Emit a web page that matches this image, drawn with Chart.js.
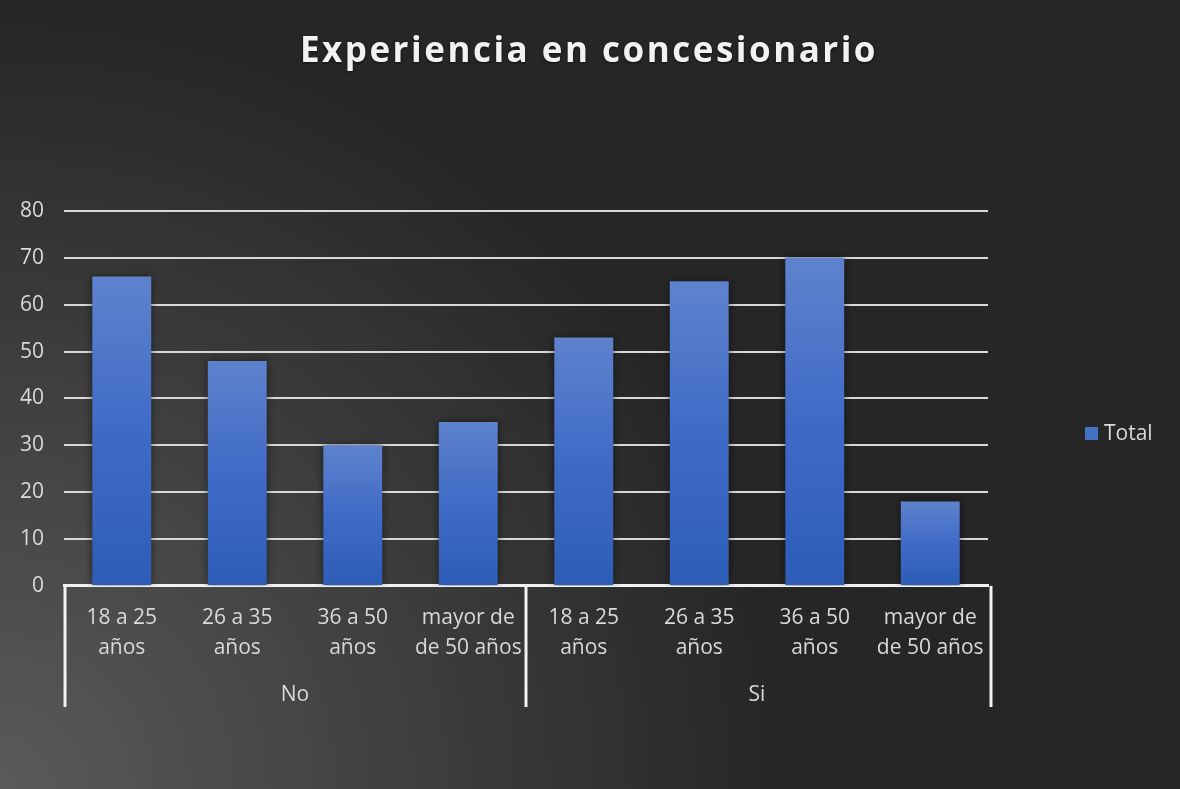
<!DOCTYPE html>
<html>
<head>
<meta charset="utf-8">
<script src="https://cdn.jsdelivr.net/npm/chart.js@4.4.1/dist/chart.umd.min.js"></script>
<style>
  html, body { margin: 0; padding: 0; background: #262626; }
  #wrap { width: 1180px; height: 789px; position: relative; }
</style>
</head>
<body>
<div id="wrap"><canvas id="chart"></canvas></div>
<script>
const chartTitle = "Experiencia en concesionario";
const groupLabels = ["No", "Si"];
const ageLabels = [
  ["18 a 25", "años"],
  ["26 a 35", "años"],
  ["36 a 50", "años"],
  ["mayor de", "de 50 años"],
];
const seriesName = "Total";
const noValues = [66, 48, 30, 35];
const siValues = [53, 65, 70, 18];
const yMin = 0;
const yMax = 80;
const yStep = 10;

const labels = groupLabels.flatMap(() => ageLabels);
const values = noValues.concat(siValues);

const textColor = "#d9d9d9";
const lineColor = "#f2f2f2";
const fontFamily = "'Open Sans', 'Noto Sans', sans-serif";

// each bar gets its own light-to-dark vertical fill
function barFill(ctx) {
  const chart = ctx.chart;
  const { chartArea, scales } = chart;
  if (!chartArea || ctx.type !== "data") return "#4472c4";
  const top = scales.y.getPixelForValue(ctx.raw);
  const bottom = scales.y.getPixelForValue(0);
  const g = chart.ctx.createLinearGradient(0, top, 0, bottom);
  g.addColorStop(0, "#5e82cd");
  g.addColorStop(0.5, "#3f6bc6");
  g.addColorStop(1, "#2d5db7");
  return g;
}

const decor = {
  id: "decor",
  beforeDraw(chart) {
    const { ctx, width, height } = chart;
    ctx.save();
    const bg = ctx.createRadialGradient(0, height, 0, 0, height, 780);
    bg.addColorStop(0, "#5a5a5a");
    bg.addColorStop(1, "#262626");
    ctx.fillStyle = bg;
    ctx.fillRect(0, 0, width, height);

    ctx.font = "bold 35px " + fontFamily;
    ctx.letterSpacing = "2.5px";
    ctx.fillStyle = "#f2f2f2";
    ctx.textAlign = "center";
    ctx.textBaseline = "middle";
    ctx.shadowColor = "rgba(0,0,0,0.6)";
    ctx.shadowBlur = 3;
    ctx.shadowOffsetY = 1;
    ctx.fillText(chartTitle, width / 2 - 1, 52);
    ctx.restore();
  },
  beforeDatasetsDraw(chart) {
    const ctx = chart.ctx;
    ctx.save();
    ctx.shadowColor = "rgba(0,0,0,0.55)";
    ctx.shadowBlur = 8;
  },
  afterDatasetsDraw(chart) {
    const ctx = chart.ctx;
    ctx.restore();

    // group separators under the axis
    const { chartArea, scales } = chart;
    const x = scales.x;
    const bottom = scales.x2.bottom - 3;
    const mid = (x.getPixelForValue(ageLabels.length - 1) + x.getPixelForValue(ageLabels.length)) / 2;
    ctx.save();
    ctx.strokeStyle = lineColor;
    ctx.lineWidth = 3;
    [chartArea.left + 1, mid, chartArea.right + 3].forEach((px) => {
      ctx.beginPath();
      ctx.moveTo(px, chartArea.bottom);
      ctx.lineTo(px, bottom);
      ctx.stroke();
    });

    // legend
    const ds = chart.data.datasets[0];
    ctx.fillStyle = "#4472c4";
    ctx.fillRect(1085, 427, 13, 13);
    ctx.font = "21px " + fontFamily;
    ctx.fillStyle = textColor;
    ctx.textAlign = "left";
    ctx.textBaseline = "middle";
    ctx.fillText(ds.label, 1104, 434);
    ctx.restore();
  },
};

new Chart(document.getElementById("chart"), {
  type: "bar",
  data: {
    labels: labels,
    datasets: [
      {
        label: seriesName,
        data: values,
        backgroundColor: barFill,
        borderWidth: 0,
        categoryPercentage: 1,
        barPercentage: 0.51,
      },
    ],
  },
  options: {
    responsive: true,
    maintainAspectRatio: false,
    animation: false,
    layout: {
      padding: { top: 211, right: 192, bottom: 79, left: 0 },
    },
    plugins: {
      legend: { display: false },
      title: { display: false },
      tooltip: { enabled: false },
    },
    scales: {
      x: {
        grid: { display: false, drawTicks: false },
        border: { display: true, color: lineColor, width: 3 },
        ticks: {
          color: textColor,
          font: { family: fontFamily, size: 21, lineHeight: 1.43 },
          padding: 17,
          maxRotation: 0,
          autoSkip: false,
        },
      },
      x2: {
        type: "category",
        labels: groupLabels,
        position: "bottom",
        offset: true,
        grid: { display: false, drawTicks: false },
        border: { display: false },
        ticks: {
          color: textColor,
          font: { family: fontFamily, size: 21, lineHeight: 1.43 },
          padding: 0,
          maxRotation: 0,
        },
      },
      y: {
        min: yMin,
        max: yMax,
        ticks: {
          stepSize: yStep,
          color: textColor,
          font: { family: fontFamily, size: 21 },
          padding: 20,
        },
        grid: { color: "#d9d9d9", lineWidth: 2, drawTicks: false },
        border: { display: false },
      },
    },
  },
  plugins: [decor],
});
</script>
</body>
</html>
